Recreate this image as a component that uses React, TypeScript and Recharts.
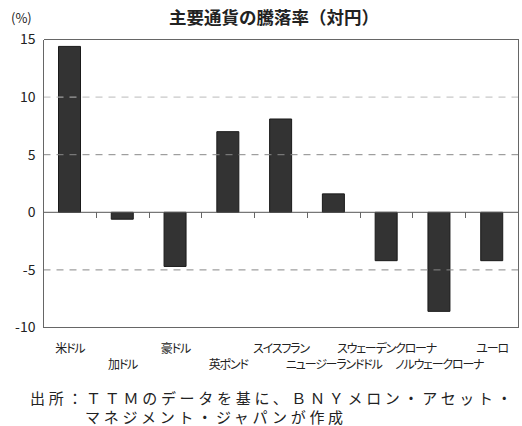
import React from "react";
import { BarChart, Bar, XAxis, YAxis, ReferenceLine } from "recharts";

// 通貨と騰落率（対円, %）
const currencies = [
  "米ドル",
  "加ドル",
  "豪ドル",
  "英ポンド",
  "スイスフラン",
  "ニュージーランドドル",
  "スウェーデンクローナ",
  "ノルウェークローナ",
  "ユーロ",
];
const changes = [14.4, -0.6, -4.7, 7.0, 8.1, 1.6, -4.2, -8.6, -4.2];
const yTicks = [-10, -5, 0, 5, 10, 15];
const yMin = -10;
const yMax = 15;

// categories sit at the middle of unit slots on a numeric x axis
const data = currencies.map((name, i) => ({ name, pos: i + 0.5, value: changes[i] }));
const xTicks = data.map((d) => d.pos);
const boundaries = currencies.slice(1).map((_, i) => i + 1);
const xMax = currencies.length;

const FONT = '"Noto Sans CJK JP", "Noto Sans", sans-serif';
const BORDER = "#666";

const CurrencyTick = (props: any) => {
  const { x, y, payload, index } = props;
  const row2 = index % 2 === 1;
  return (
    <text
      x={x}
      y={y}
      dy={row2 ? 28 : 12}
      textAnchor="middle"
      dominantBaseline="central"
      fontSize={12}
      letterSpacing={-1.2}
      fill="#222"
      fontFamily={FONT}
      style={{ fontFeatureSettings: '"palt"' }}
    >
      {currencies[Math.floor(payload.value)]}
    </text>
  );
};

const App = () => (
  <div
    style={{
      position: "absolute",
      left: 0,
      top: 0,
      width: 522,
      height: 426,
      background: "#fff",
      fontFamily: FONT,
      color: "#222",
      overflow: "hidden",
    }}
  >
    <div style={{ position: "absolute", left: 11, top: 8, fontSize: 13 }}>(%)</div>
    <div
      style={{
        position: "absolute",
        left: 0,
        width: 548,
        top: 4,
        textAlign: "center",
        fontSize: 17.5,
        fontWeight: 700,
      }}
    >
      主要通貨の騰落率（対円）
    </div>

    <div style={{ position: "absolute", left: 0, top: 0 }}>
      <BarChart
        width={522}
        height={380}
        data={data}
        margin={{ top: 39.5, right: 3.5, left: 0.5, bottom: 7.5 }}
      >
        <XAxis
          dataKey="pos"
          type="number"
          domain={[0, xMax]}
          ticks={xTicks}
          interval={0}
          tickLine={false}
          axisLine={{ stroke: BORDER, shapeRendering: "crispEdges" }}
          height={45}
          tick={<CurrencyTick />}
        />
        <YAxis
          domain={[yMin, yMax]}
          ticks={yTicks}
          interval={0}
          tickLine={false}
          axisLine={{ stroke: BORDER, shapeRendering: "crispEdges" }}
          width={43}
          tick={{ fontSize: 14, fill: "#222", fontFamily: FONT }}
        />
        <ReferenceLine y={10} stroke="#bbb" strokeDasharray="7 6" />
        <ReferenceLine y={5} stroke="#888" strokeDasharray="7 6" />
        <ReferenceLine y={-5} stroke="#888" strokeDasharray="7 6" />
        <Bar
          dataKey="value"
          fill="#333"
          stroke="#1a1a1a"
          barSize={22}
          isAnimationActive={false}
        />
        <ReferenceLine y={0} stroke="#555" />
        {boundaries.map((b) => (
          <ReferenceLine
            key={b}
            stroke={BORDER}
            shapeRendering="crispEdges"
            segment={[
              { x: b, y: 0 },
              { x: b, y: -0.5 },
            ]}
          />
        ))}
        {/* plot frame */}
        <ReferenceLine y={yMax} stroke={BORDER} shapeRendering="crispEdges" />
        <ReferenceLine y={yMin} stroke={BORDER} shapeRendering="crispEdges" />
        <ReferenceLine x={0} stroke={BORDER} shapeRendering="crispEdges" />
        <ReferenceLine x={xMax} stroke={BORDER} shapeRendering="crispEdges" />
      </BarChart>
    </div>

    <div
      style={{
        position: "absolute",
        left: 30,
        top: 389,
        fontSize: 15,
        letterSpacing: 3.7,
        lineHeight: "18px",
        whiteSpace: "nowrap",
      }}
    >
      出所：ＴＴＭのデータを基に、ＢＮＹメロン・アセット・
    </div>
    <div
      style={{
        position: "absolute",
        left: 85,
        top: 408,
        fontSize: 15,
        letterSpacing: 3.7,
        lineHeight: "18px",
        whiteSpace: "nowrap",
      }}
    >
      マネジメント・ジャパンが作成
    </div>
  </div>
);

export default App;
